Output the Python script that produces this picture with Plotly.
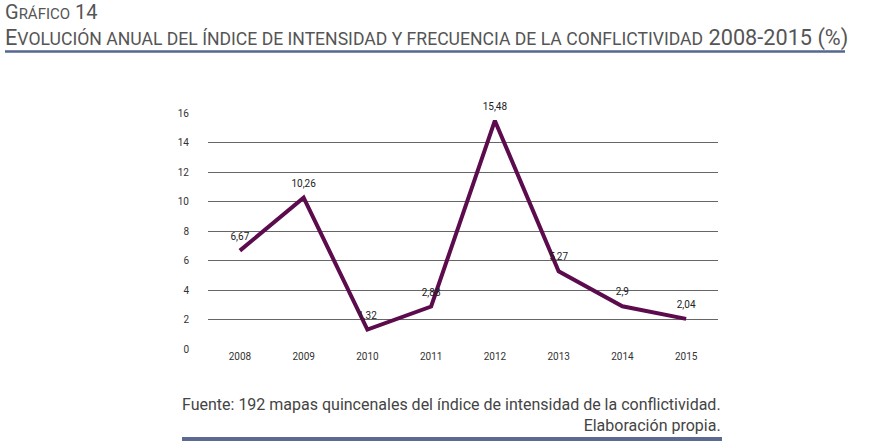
import plotly.graph_objects as go

years = ["2008", "2009", "2010", "2011", "2012", "2013", "2014", "2015"]
values = [6.67, 10.26, 1.32, 2.88, 15.48, 5.27, 2.90, 2.04]
labels = ["6,67", "10,26", "1,32", "2,88", "15,48", "5,27", "2,9", "2,04"]
y_ticks = [0, 2, 4, 6, 8, 10, 12, 14, 16]

W, H = 879, 443
L, R, T, B = 208, 718, 113, 349

def px(x):
    return (x - L) / (R - L)

def py(y):
    return (B - y) / (B - T)

FONT = "Roboto, Liberation Sans, Arial, sans-serif"

fig = go.Figure()
fig.add_trace(go.Scatter(
    x=years, y=values, mode="lines+markers+text",
    line=dict(color="#5c0c4c", width=4),
    marker=dict(size=12, opacity=0, color="#5c0c4c"),
    text=labels, textposition="top center",
    textfont=dict(family=FONT, size=10, color="#222"),
    cliponaxis=False, showlegend=False, hoverinfo="skip",
))

fig.update_layout(
    width=W, height=H,
    margin=dict(l=L, r=W - R, t=T, b=H - B),
    paper_bgcolor="white", plot_bgcolor="white",
    xaxis=dict(type="category", range=[-0.5, 7.5], showgrid=False, showline=False,
               ticks="", tickfont=dict(family=FONT, size=10, color="#333"), zeroline=False),
    yaxis=dict(range=[0, 16], tickvals=y_ticks, showgrid=True, gridcolor="#666", gridwidth=1,
               zeroline=False, showline=False, ticks="", ticklabelstandoff=18,
               tickfont=dict(family=FONT, size=10, color="#333")),
    shapes=[
        dict(type="line", xref="paper", yref="paper", x0=px(5), x1=px(845), y0=py(51.5), y1=py(51.5),
             line=dict(color="#55678f", width=2.5)),
        dict(type="line", xref="paper", yref="paper", x0=px(182), x1=px(722), y0=py(439), y1=py(439),
             line=dict(color="#5a6a90", width=4)),
    ],
    annotations=[
        dict(xref="paper", yref="paper", x=px(3), y=py(26), xanchor="left", yanchor="bottom",
             showarrow=False,
             text="G<span style='font-size:15px'>RÁFICO</span> 14",
             font=dict(family=FONT, size=20, color="#555")),
        dict(xref="paper", yref="paper", x=px(3), y=py(53.5), xanchor="left", yanchor="bottom",
             showarrow=False,
             text="E<span style='font-size:17.6px'>VOLUCIÓN ANUAL DEL ÍNDICE DE INTENSIDAD Y FRECUENCIA DE LA CONFLICTIVIDAD</span> 2008-2015 (%)",
             font=dict(family=FONT, size=21.7, color="#555")),
        dict(xref="paper", yref="paper", x=px(723), y=py(393), xanchor="right", yanchor="top",
             showarrow=False, align="right",
             text="Fuente: 192 mapas quincenales del índice de intensidad de la conflictividad.<br>Elaboración propia.",
             font=dict(family=FONT, size=16, color="#444")),
    ],
)

fig.write_html("out.html", post_script="document.body.style.margin='0';",
               config={"displayModeBar": False})
